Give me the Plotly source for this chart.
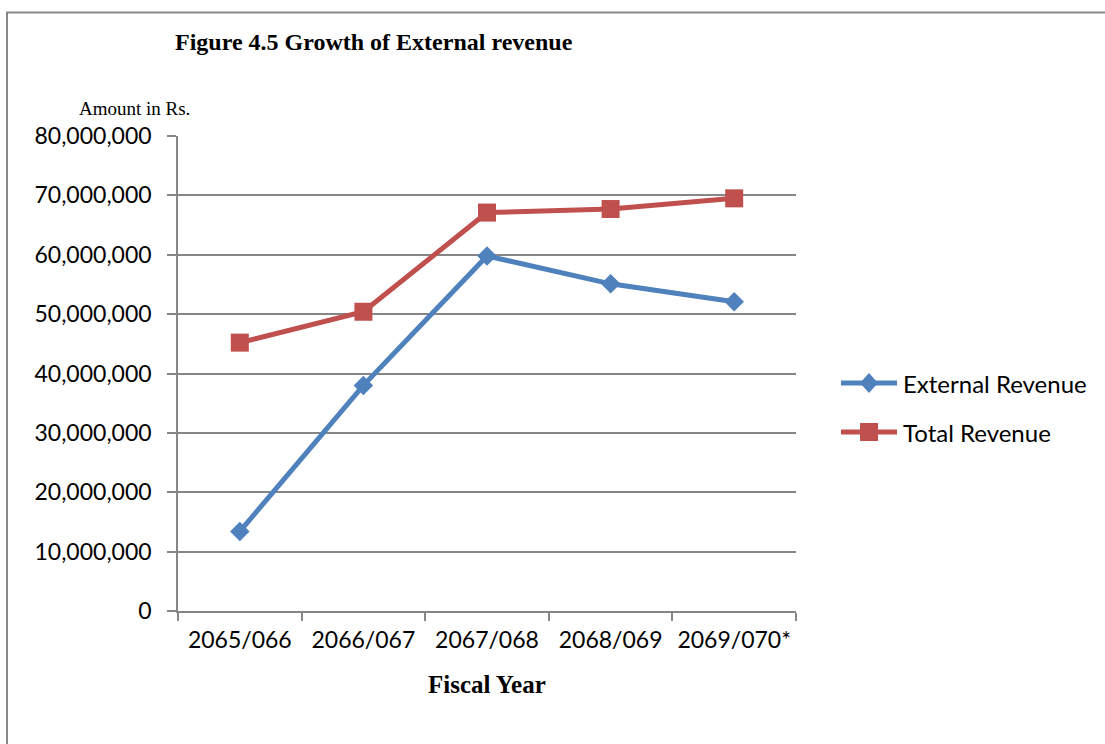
import plotly.graph_objects as go

years = ["2065/066", "2066/067", "2067/068", "2068/069", "2069/070*"]
external_revenue = [13400000, 38000000, 59800000, 55100000, 52100000]
total_revenue = [45200000, 50400000, 67100000, 67700000, 69500000]
y_ticks = [0, 10000000, 20000000, 30000000, 40000000, 50000000, 60000000, 70000000, 80000000]
series_names = ["External Revenue", "Total Revenue"]
series_colors = ["#4F81BD", "#C0504D"]

W, H = 1105, 744
L, R, T, B = 178, 796, 136, 611
def px(x): return (x - L) / (R - L)
def py(y): return (B - y) / (B - T)

sans = "Lato, Carlito, Calibri, sans-serif"
serif = "Liberation Serif, Times New Roman, serif"
tick_font = dict(family=sans, size=23, color="#000")

fig = go.Figure()
fig.add_trace(go.Scatter(x=years, y=external_revenue, name=series_names[0],
                         mode="lines+markers",
                         line=dict(color=series_colors[0], width=5),
                         marker=dict(symbol="diamond", size=15, color=series_colors[0])))
fig.add_trace(go.Scatter(x=years, y=total_revenue, name=series_names[1],
                         mode="lines+markers",
                         line=dict(color=series_colors[1], width=5),
                         marker=dict(symbol="square", size=18, color=series_colors[1])))

fig.update_layout(
    width=W, height=H,
    margin=dict(l=L, r=W - R, t=T, b=H - B),
    paper_bgcolor="white", plot_bgcolor="white",
    showlegend=False,
    xaxis=dict(type="category", range=[-0.5, 4.5], tickson="boundaries",
               ticks="outside", ticklen=8, tickcolor="#868686", tickwidth=1.5,
               showline=True, linecolor="#868686", linewidth=1.5,
               showgrid=False, tickfont=tick_font, ticklabelstandoff=8),
    yaxis=dict(range=[0, 80000000], tickvals=y_ticks, tickformat=",d",
               ticks="outside", ticklen=9, tickcolor="#868686", tickwidth=1.5,
               showline=True, linecolor="#868686", linewidth=1.5,
               showgrid=True, gridcolor="#868686", gridwidth=1.5,
               zeroline=False, tickfont=tick_font, ticklabelstandoff=11),
)

# Legend (drawn manually to match the long line samples)
legend_rows = [383, 432]
for name, color, row, sym in zip(series_names, series_colors, legend_rows, ["diamond", "square"]):
    fig.add_shape(type="line", xref="paper", yref="paper",
                  x0=px(841), x1=px(897), y0=py(row), y1=py(row),
                  line=dict(color=color, width=5))
    if sym == "square":
        fig.add_shape(type="rect", xref="paper", yref="paper",
                      x0=px(860), x1=px(878), y0=py(row - 9), y1=py(row + 9),
                      line=dict(width=0), fillcolor=color)
    else:
        fig.add_shape(type="path", xref="paper", yref="paper",
                      path="M {} {} L {} {} L {} {} L {} {} Z".format(
                          px(869), py(row - 10), px(878), py(row),
                          px(869), py(row + 10), px(860), py(row)),
                      line=dict(width=0), fillcolor=color)
    fig.add_annotation(text=name, xref="paper", yref="paper",
                       x=px(901), y=py(row), xanchor="left", yanchor="middle", showarrow=False,
                       font=dict(family=sans, size=24, color="#000"))

fig.add_annotation(text="<b>Figure 4.5 Growth of External revenue</b>", xref="paper", yref="paper",
                   x=px(173), y=py(42), xanchor="left", yanchor="middle", showarrow=False,
                   font=dict(family=serif, size=24, color="#000"))
fig.add_annotation(text="Amount in Rs.", xref="paper", yref="paper",
                   x=px(77), y=py(108), xanchor="left", yanchor="middle", showarrow=False,
                   font=dict(family=serif, size=19, color="#000"))
fig.add_annotation(text="<b>Fiscal Year</b>", xref="paper", yref="paper",
                   x=px(487), y=py(684), xanchor="center", yanchor="middle", showarrow=False,
                   font=dict(family=serif, size=25, color="#000"))

fig.add_shape(type="rect", xref="paper", yref="paper",
              x0=px(7), x1=px(1120), y0=py(12.5), y1=py(760),
              line=dict(color="#888888", width=2), fillcolor="rgba(0,0,0,0)", layer="below")

fig.write_html("out.html")
